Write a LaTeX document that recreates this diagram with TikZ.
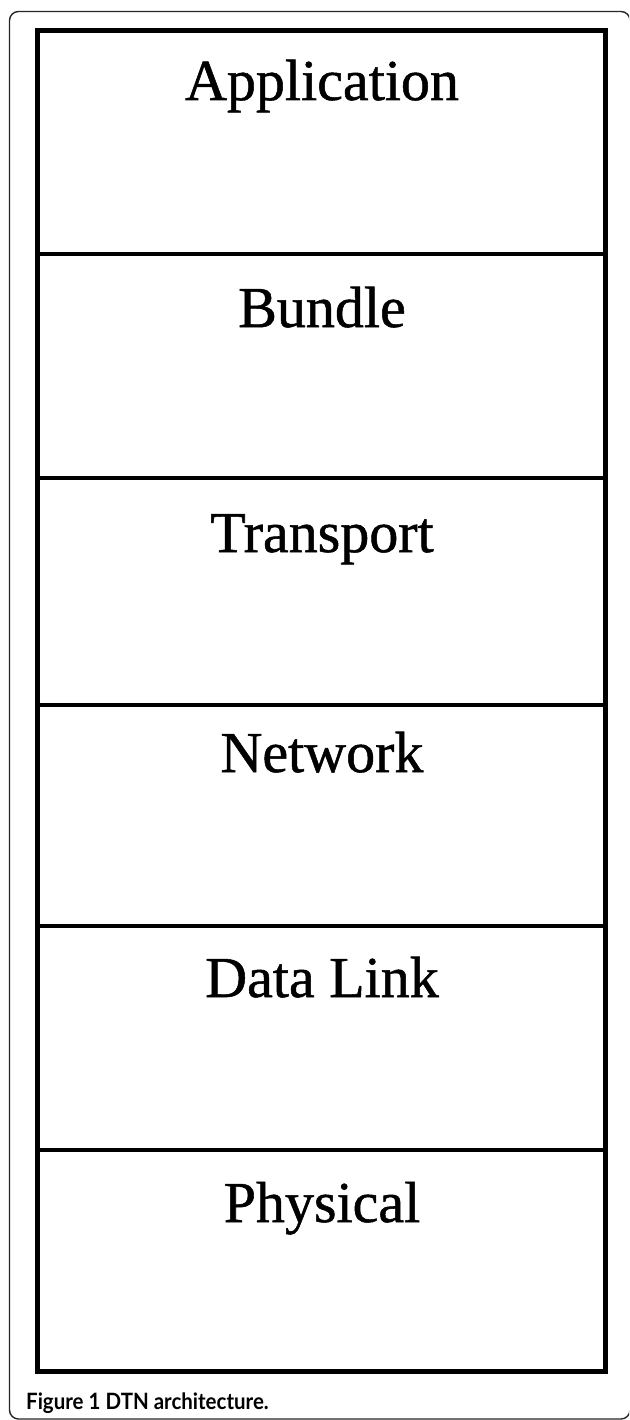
\documentclass[tikz,border=0pt]{standalone}
\usepackage{fontspec}
\setmainfont{Liberation Serif}
\newfontfamily\layerfont[FakeBold=0.9]{Liberation Serif}
\newfontfamily\capfont{Lato}
\tikzset{
  layer/.style={draw=none, font=\layerfont\fontsize{58}{62}\selectfont, anchor=base, inner sep=0pt},
  divider/.style={line width=4pt},
  stackbox/.style={line width=5pt},
  frame/.style={draw=black!85, line width=1.4pt, rounded corners=9pt},
}
\begin{document}
\begin{tikzpicture}[x=1pt, y=-1pt]
  \useasboundingbox (0,0) rectangle (629,1420);
  % outer figure frame
  \begin{scope}
    \clip (0,0) rectangle (629,1420);
    \draw[frame] (9.5,11.5) rectangle (630,1419);
  \end{scope}
  % layer stack outline
  \draw[stackbox] (37.5,30.5) rectangle (605,1371);
  % layer separators
  \foreach \yy in {254,478,705,926,1150}
    \draw[divider] (37.5,\yy) -- (605,\yy);
  % layer names
  \node[layer] (app)  at (322,100)  {Application};
  \node[layer] (bun)  at (322,327)  {Bundle};
  \node[layer] (tra)  at (322,552)  {Transport};
  \node[layer] (net)  at (322,772)  {Network};
  \node[layer] (dl)   at (322,997)  {Data Link};
  \node[layer] (phy)  at (322,1222) {Physical};
  % caption
  \node[anchor=base west, inner sep=0pt, font=\capfont\fontsize{22.5}{24}\selectfont]
    (cap) at (26,1409) {\scalebox{0.91}[1]{\textbf{Figure 1} \textbf{DTN architecture.}}};
\end{tikzpicture}
\end{document}
